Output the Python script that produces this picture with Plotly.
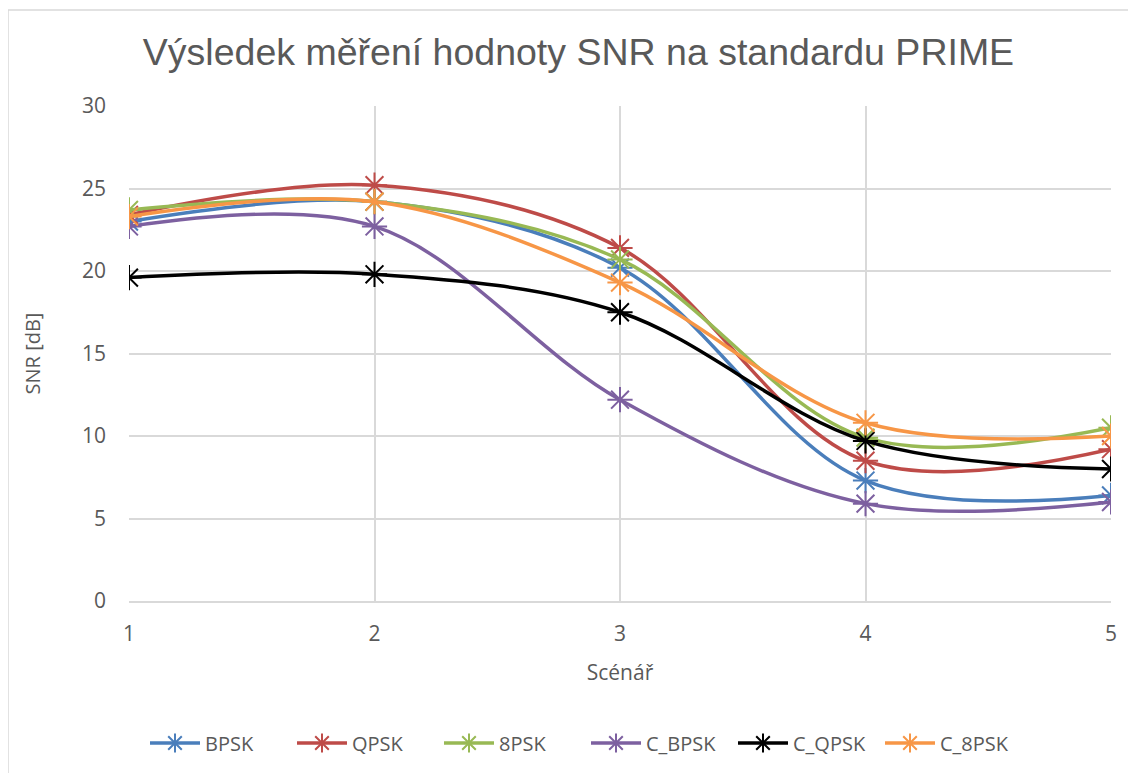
import plotly.graph_objects as go

scenarios = [1, 2, 3, 4, 5]
bpsk = [23.0, 24.2, 20.2, 7.3, 6.4]
qpsk = [23.4, 25.2, 21.4, 8.5, 9.2]
psk8 = [23.7, 24.2, 20.7, 9.9, 10.5]
c_bpsk = [22.7, 22.7, 12.2, 5.9, 6.0]
c_qpsk = [19.6, 19.8, 17.5, 9.7, 8.0]
c_8psk = [23.3, 24.2, 19.3, 10.8, 10.0]

names = ["BPSK", "QPSK", "8PSK", "C_BPSK", "C_QPSK", "C_8PSK"]
series = [bpsk, qpsk, psk8, c_bpsk, c_qpsk, c_8psk]
colors = ["#4a7ebb", "#be4b48", "#98b954", "#7d60a0", "#000000", "#f79646"]

font = "Open Sans, sans-serif"
gray = "#595959"

W, H = 1128, 765
L, R, T, B = 121, 25, 98, 172
PW, PH = W - L - R, H - T - B

fig = go.Figure()
for n, s, c in zip(names, series, colors):
    fig.add_trace(go.Scatter(
        x=scenarios, y=s, name=n, mode="lines+markers",
        line=dict(color=c, width=3.5, shape="spline", smoothing=1.0),
        marker=dict(symbol="asterisk-open", size=21, color=c, line=dict(color=c, width=2)),
    ))

fig.update_layout(
    width=W, height=H,
    margin=dict(l=L, r=R, t=T, b=B, autoexpand=False),
    paper_bgcolor="white", plot_bgcolor="white",
    font=dict(family=font, color=gray, size=21),
    title=dict(text="Výsledek měření hodnoty SNR na standardu PRIME",
               x=570.5 / W, xref="container", xanchor="center",
               y=1 - 44 / H, yref="container", yanchor="middle",
               font=dict(size=37.5, color=gray, family="Liberation Sans, Arial, sans-serif")),
    showlegend=True,
    legend=dict(orientation="h", x=16 / PW, xanchor="left", y=-142 / PH, yanchor="middle",
                font=dict(size=20, color=gray), itemwidth=50,
                entrywidth=82, entrywidthmode="pixels"),
    xaxis=dict(range=[1, 5], tickvals=scenarios, showgrid=True, gridcolor="#d9d9d9",
               gridwidth=1.5, zeroline=False, showline=True, linecolor="#d9d9d9", linewidth=1.5,
               ticks="", ticklabelstandoff=13,
               title=dict(text="Scénář", standoff=19, font=dict(size=21, color=gray))),
    yaxis=dict(range=[0, 30], dtick=5, showgrid=True, gridcolor="#d9d9d9", gridwidth=1.5,
               zeroline=False, showline=False, ticks="", ticklabelstandoff=22,
               title=dict(text="SNR [dB]", standoff=35, font=dict(size=20, color=gray))),
)
fig.add_shape(type="rect", xref="paper", yref="paper",
              x0=-L / PW, x1=(W + 20 - L) / PW, y0=-(B + 20) / PH, y1=1 + (T - 2) / PH,
              line=dict(color="#d9d9d9", width=1.5), fillcolor="rgba(0,0,0,0)", layer="below")

fig.write_html("out.html")
